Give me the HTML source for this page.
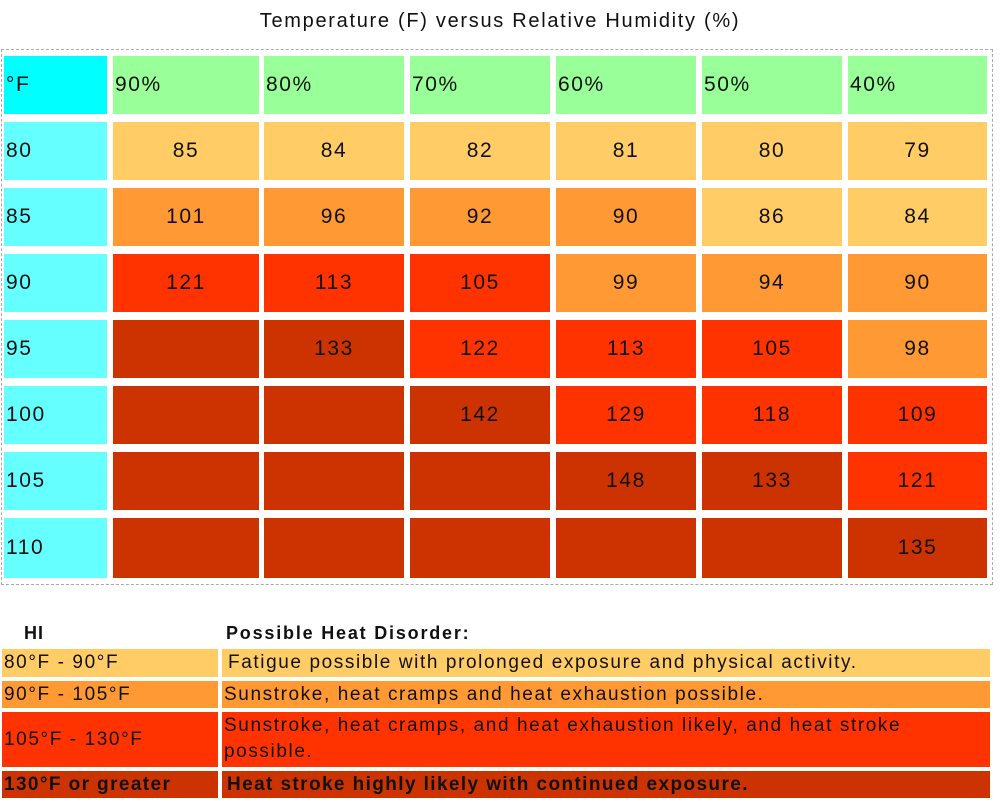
<!DOCTYPE html>
<html><head><meta charset="utf-8"><style>
body{margin:0;width:1000px;height:804px;background:#fff;position:relative;overflow:hidden;font-family:"Liberation Sans",sans-serif;color:#111}
div.c{position:absolute;font-size:21px;letter-spacing:1.6px;display:flex;align-items:center;box-sizing:border-box}
.t{position:absolute;left:0;width:1000px;top:10px;text-align:center;font-size:20px;letter-spacing:1.7px}
.l{padding-left:2px}
.m{justify-content:center}
.lg{position:absolute;font-size:19px;letter-spacing:1.6px;display:flex;align-items:center;box-sizing:border-box;padding-left:2px;line-height:26px;white-space:nowrap}
</style></head><body>
<div class="t">Temperature (F) versus Relative Humidity (%)</div>
<div style="position:absolute;left:1px;top:49px;width:992px;height:536px;border:1px dashed #aaa;box-sizing:border-box"></div>
<div id="g"></div>
<script>
var cols=[[4,107],[113,259],[264,404],[410,550],[556,696],[702,842],[848,987]];
var rows=[[56,114],[122,180],[188,246],[254,312],[320,378],[386,444],[452,510],[518,578]];
var C={y:'#ffcc66',o:'#ff9933',r:'#ff3300',d:'#cc3300'};
var data=[
['°F','90%','80%','70%','60%','50%','40%'],
['80','85y','84y','82y','81y','80y','79y'],
['85','101o','96o','92o','90o','86y','84y'],
['90','121r','113r','105r','99o','94o','90o'],
['95','d','133d','122r','113r','105r','98o'],
['100','d','d','142d','129r','118r','109r'],
['105','d','d','d','148d','133d','121r'],
['110','d','d','d','d','d','135d']];
var h='';
for(var i=0;i<8;i++)for(var j=0;j<7;j++){
var v=data[i][j],bg,txt,cls;
if(j==0){bg=i==0?'#00ffff':'#66ffff';txt=v;cls='l';}
else if(i==0){bg='#99ff99';txt=v;cls='l';}
else{var k=v.slice(-1);bg=C[k];txt=v.slice(0,-1);cls='m';}
h+='<div class="c '+cls+'" style="left:'+cols[j][0]+'px;width:'+(cols[j][1]-cols[j][0])+'px;top:'+rows[i][0]+'px;height:'+(rows[i][1]-rows[i][0])+'px;background:'+bg+'">'+txt+'</div>';
}
document.getElementById('g').innerHTML=h;
</script>
<div class="lg" style="left:22px;top:620px;font-weight:bold;font-size:18px;letter-spacing:1px">HI</div>
<div class="lg" style="left:224px;top:620px;font-weight:bold;font-size:18px;letter-spacing:1.8px">Possible Heat Disorder:</div>
<div class="lg" style="left:2px;top:649px;width:216px;height:28px;background:#ffcc66">80°F - 90°F</div>
<div class="lg" style="left:222px;top:649px;width:768px;height:28px;background:#ffcc66;padding-left:6px">Fatigue possible with prolonged exposure and physical activity.</div>
<div class="lg" style="left:2px;top:681px;width:216px;height:27px;background:#ff9933">90°F - 105°F</div>
<div class="lg" style="left:222px;top:681px;width:768px;height:27px;background:#ff9933">Sunstroke, heat cramps and heat exhaustion possible.</div>
<div class="lg" style="left:2px;top:712px;width:216px;height:55px;background:#ff3300">105°F - 130°F</div>
<div class="lg" style="left:222px;top:712px;width:768px;height:55px;background:#ff3300;align-items:flex-start;padding-top:1px">Sunstroke, heat cramps, and heat exhaustion likely, and heat stroke<br>possible.</div>
<div class="lg" style="left:2px;top:771px;width:216px;height:27px;background:#cc3300;font-weight:bold;letter-spacing:1.4px">130°F or greater</div>
<div class="lg" style="left:222px;top:771px;width:768px;height:27px;background:#cc3300;font-weight:bold;letter-spacing:1.4px;padding-left:5px">Heat stroke highly likely with continued exposure.</div>
</body></html>
